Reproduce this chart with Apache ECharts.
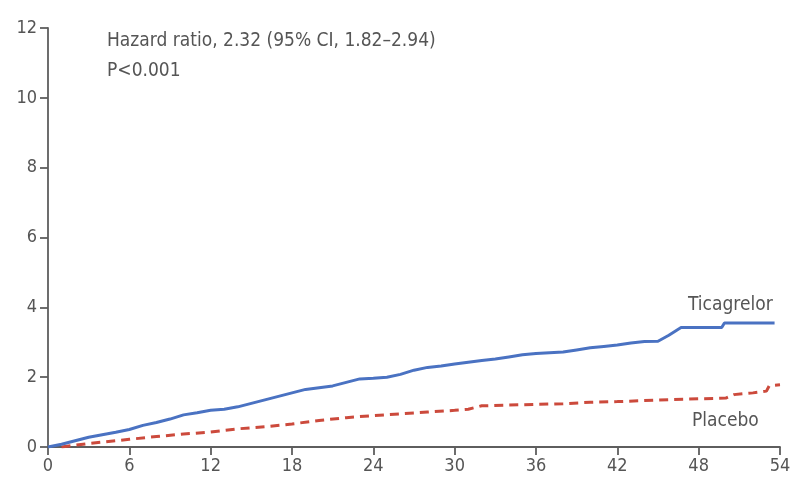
<!DOCTYPE html>
<html><head><meta charset="utf-8">
<script src="https://cdn.jsdelivr.net/npm/echarts@6/dist/echarts.min.js"></script>
<style>html,body{margin:0;padding:0;background:#fff}#c{width:794px;height:485px}</style>
</head><body><div id="c"></div>
<script>
const xTicks = [0, 6, 12, 18, 24, 30, 36, 42, 48, 54];
const yTicks = [0, 2, 4, 6, 8, 10, 12];
const seriesNames = ['Ticagrelor', 'Placebo'];
const annotation = ['Hazard ratio, 2.32 (95% CI, 1.82\u20132.94)', 'P<0.001'];
const ticagrelor = [[0,0],[1,0.08],[2,0.18],[3,0.28],[4,0.35],[5,0.42],[6,0.5],[7,0.62],[8,0.7],[9,0.8],[10,0.92],[11,0.98],[12,1.05],[13,1.08],[14,1.15],[15,1.25],[16,1.35],[17,1.45],[18,1.55],[19,1.65],[20,1.7],[21,1.75],[22,1.85],[23,1.95],[24,1.97],[25,2.0],[26,2.08],[27,2.2],[28,2.28],[29,2.32],[30,2.38],[31,2.43],[32,2.48],[33,2.52],[34,2.58],[35,2.64],[36,2.68],[37,2.7],[38,2.72],[39,2.78],[40,2.84],[41,2.88],[42,2.92],[43,2.98],[44,3.02],[45,3.03],[45.8,3.2],[46.7,3.42],[49.7,3.42],[49.9,3.55],[53.6,3.55]];
const placebo = [[1,0],[2,0.05],[3,0.1],[4,0.14],[5,0.18],[6,0.22],[8,0.3],[10,0.37],[12,0.43],[14,0.52],[16,0.58],[18,0.66],[20,0.76],[22,0.84],[24,0.9],[26,0.95],[28,1.0],[30,1.05],[31,1.08],[32,1.18],[34,1.2],[36,1.22],[38,1.24],[40,1.28],[42,1.3],[44,1.33],[46,1.36],[48,1.38],[50,1.4],[50.6,1.5],[52,1.55],[53,1.6],[53.2,1.75],[54,1.78]];

const FONT = '"Liberation Sans Narrow","DejaVu Sans Condensed",sans-serif';
const axisColor = '#5e5e5e';
const chart = echarts.init(document.getElementById('c'));
chart.setOption({
  animation: false,
  grid: {left: 48, right: 14, top: 28, bottom: 38, containLabel: false},
  xAxis: {
    type: 'value', min: xTicks[0], max: xTicks[xTicks.length-1], interval: 6,
    axisLine: {show: true, onZero: false, lineStyle: {color: axisColor, width: 1.8}},
    axisTick: {show: true, length: 8, lineStyle: {color: axisColor, width: 1.8}},
    axisLabel: {color: '#555', fontSize: 18, fontFamily: FONT, margin: 10},
    splitLine: {show: false}
  },
  yAxis: {
    type: 'value', min: yTicks[0], max: yTicks[yTicks.length-1], interval: 2,
    axisLine: {show: true, onZero: false, lineStyle: {color: axisColor, width: 1.8}},
    axisTick: {show: true, length: 8, lineStyle: {color: axisColor, width: 1.8}},
    axisLabel: {color: '#555', fontSize: 18, fontFamily: FONT, margin: 11},
    splitLine: {show: false}
  },
  series: [
    {name: seriesNames[0], type: 'line', data: ticagrelor, showSymbol: false, symbol: 'none',
     lineStyle: {color: '#4a72c2', width: 3}, z: 3},
    {name: seriesNames[1], type: 'line', data: placebo, showSymbol: false, symbol: 'none',
     lineStyle: {color: '#cc4a3c', width: 3, type: [9, 6]}, z: 2}
  ],
  graphic: [
    {type: 'text', left: 107, top: 32, style: {text: annotation[0], fill: '#555', font: '19px ' + FONT}},
    {type: 'text', left: 107, top: 62, style: {text: annotation[1], fill: '#555', font: '19px ' + FONT}},
    {type: 'text', left: 688, top: 296, style: {text: seriesNames[0], fill: '#555', font: '19px ' + FONT}},
    {type: 'text', left: 692, top: 412, style: {text: seriesNames[1], fill: '#555', font: '19px ' + FONT}}
  ]
});
</script></body></html>
